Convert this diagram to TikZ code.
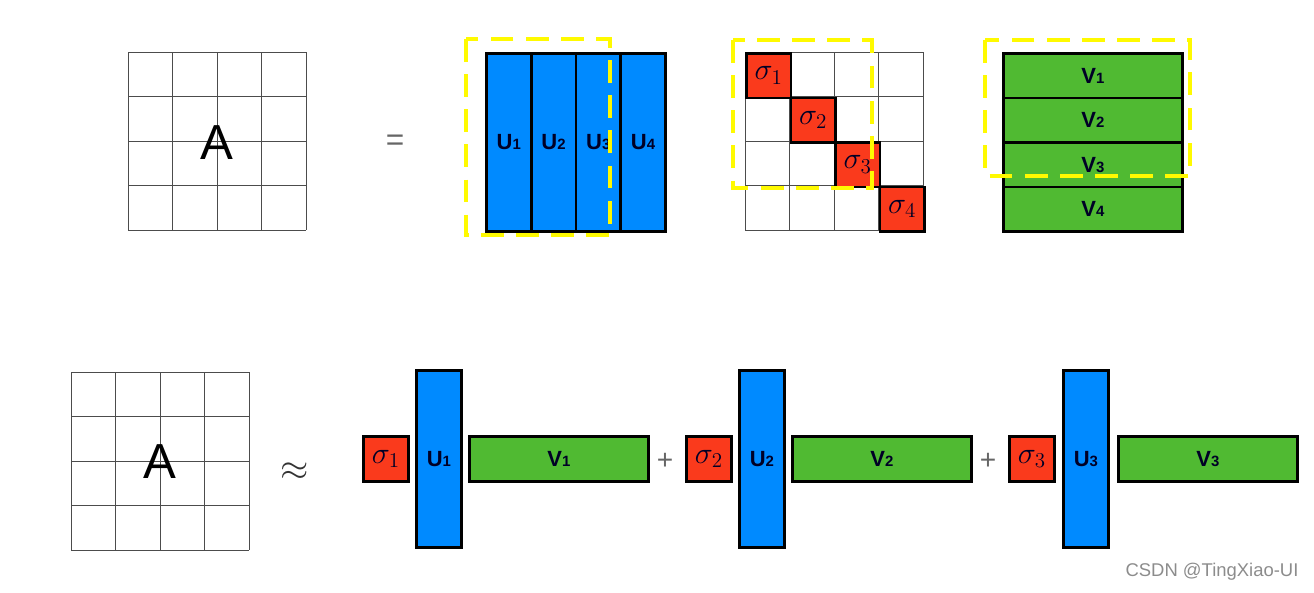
\documentclass[tikz,border=0pt]{standalone}
\usepackage{fontspec}
\setsansfont{Liberation Sans}
\usetikzlibrary{positioning}
\definecolor{ublue}{RGB}{0,138,255}
\definecolor{sred}{RGB}{250,58,28}
\definecolor{vgreen}{RGB}{80,186,50}
\definecolor{hlyellow}{RGB}{255,250,0}
\newcommand{\idx}[1]{{\fontsize{8.5}{8.5}\selectfont #1}}

\begin{document}
\begin{tikzpicture}[x=0.2mm, y=-0.2mm,
    gridline/.style={black!70, line width=0.55pt},
    box/.style={draw, line width=1.6pt, inner sep=0pt, anchor=north west, text=black!85!blue},
    ucol/.style={box, fill=ublue, minimum width=8.95mm, minimum height=35.6mm, font=\sffamily\bfseries\fontsize{12.5}{12.5}\selectfont},
    vrow/.style={box, fill=vgreen, minimum width=35.8mm, minimum height=8.9mm, font=\sffamily\bfseries\fontsize{12.5}{12.5}\selectfont},
    sbox/.style={box, fill=sred, minimum width=8.9mm, minimum height=8.9mm, font=\fontsize{17}{17}\selectfont},
    ubar/.style={ucol, minimum width=9mm, minimum height=35.4mm},
    vbar/.style={vrow, minimum width=35.8mm, minimum height=9mm},
    sterm/.style={sbox, minimum width=9mm, minimum height=9mm},
    hilite/.style={hlyellow, line width=2.8pt, dash pattern=on 13pt off 7pt},
    bigA/.style={font=\sffamily\fontsize{28}{28}\selectfont, text=black},
    opsign/.style={text=black!60, font=\fontsize{20}{20}\selectfont},
]
  \useasboundingbox (0,0) rectangle (1314,592);

  % A = U Sigma V
  \foreach \i in {0,...,4} {
    \draw[gridline] (128+44.5*\i,52) -- (128+44.5*\i,230);
    \draw[gridline] (128,52+44.5*\i) -- (306,52+44.5*\i);
    \draw[gridline] (745+44.5*\i,52) -- (745+44.5*\i,230);
    \draw[gridline] (745,52+44.5*\i) -- (923,52+44.5*\i);
    \draw[gridline] (71+44.5*\i,372) -- (71+44.5*\i,550);
    \draw[gridline] (71,372+44.5*\i) -- (249,372+44.5*\i);
  }
  \node[bigA] (atop) at (217,143) {A};
  \node[opsign, font=\sffamily\fontsize{18}{18}\selectfont] (eq) at (395,143) {=};

  \node[ucol] (u1) at (485,52) {U\idx{1}};
  \node[ucol] (u2) at (529.75,52) {U\idx{2}};
  \node[ucol] (u3) at (574.5,52) {U\idx{3}};
  \node[ucol] (u4) at (619.25,52) {U\idx{4}};

  \node[sbox] (s1) at (745,52) {$\sigma_1$};
  \node[sbox] (s2) at (789.5,96.5) {$\sigma_2$};
  \node[sbox] (s3) at (834,141) {$\sigma_3$};
  \node[sbox] (s4) at (878.5,185.5) {$\sigma_4$};

  \node[vrow] (v1) at (1002,52) {V\idx{1}};
  \node[vrow] (v2) at (1002,96.5) {V\idx{2}};
  \node[vrow] (v3) at (1002,141) {V\idx{3}};
  \node[vrow] (v4) at (1002,185.5) {V\idx{4}};

  \draw[hilite] (466,39) rectangle (610,235);
  \draw[hilite] (733,40) rectangle (872,188);
  \draw[hilite] (985,40) rectangle (1190,176);

  % rank-3 approximation
  \node[bigA] (abot) at (160,462) {A};
  \node[opsign, text=black!80] (approx) at (295,472) {$\approx$};

  \node[sterm] (t1s) at (362,435) {$\sigma_1$};
  \node[ubar] (t1u) at (415,369) {U\idx{1}};
  \node[vbar] (t1v) at (468,435) {V\idx{1}};
  \node[opsign, font=\sffamily\fontsize{16}{16}\selectfont] (plus1) at (665,461) {+};

  \node[sterm] (t2s) at (685,435) {$\sigma_2$};
  \node[ubar] (t2u) at (738,369) {U\idx{2}};
  \node[vbar] (t2v) at (791,435) {V\idx{2}};
  \node[opsign, font=\sffamily\fontsize{16}{16}\selectfont] (plus2) at (988,461) {+};

  \node[sterm] (t3s) at (1008,435) {$\sigma_3$};
  \node[ubar] (t3u) at (1062,369) {U\idx{3}};
  \node[vbar] (t3v) at (1117,435) {V\idx{3}};

  \node[text=black!45, font=\sffamily\fontsize{10.5}{10.5}\selectfont] (mark) at (1212,572) {CSDN @TingXiao-UI};
\end{tikzpicture}
\end{document}
